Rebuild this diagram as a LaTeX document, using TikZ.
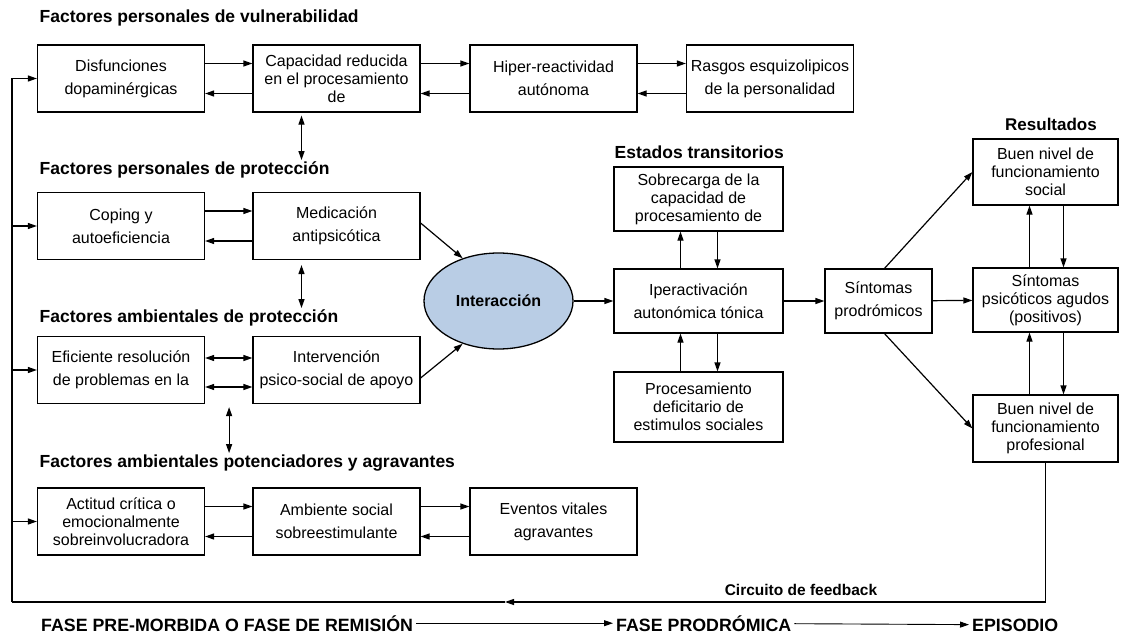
\documentclass[tikz,border=0pt]{standalone}
\usepackage{fontspec}
\setmainfont{Liberation Sans}
\usetikzlibrary{arrows.meta,shapes.geometric}
\definecolor{ellblue}{RGB}{185,205,229}

\begin{document}
\begin{tikzpicture}[x=1pt,y=-1pt,
		box/.style={draw,line width=1.2pt,minimum width=167pt,minimum height=67pt,inner sep=1pt,align=center,font=\fontsize{16}{18}\selectfont},
		box2/.style={box,font=\fontsize{16}{23}\selectfont},
		head/.style={anchor=west,inner sep=1.5pt,font=\bfseries\fontsize{17.5}{20}\selectfont},
		arr/.style={line width=1.2pt,-{Triangle[length=9pt,width=6pt]}},
		dbl/.style={line width=1.2pt,{Triangle[length=9pt,width=6pt]}-{Triangle[length=9pt,width=6pt]}},
		phase/.style={inner sep=3pt,anchor=base west,font=\bfseries\fontsize{17.8}{20}\selectfont}]
		\useasboundingbox (0,0) rectangle (1122,634);
		
		% factores de vulnerabilidad y proteccion
		\node[head] (hvu) at (38,18) {Factores personales de vulnerabilidad};
		\node[box2] (dis) at (121,78.5) {Disfunciones\\dopaminérgicas};
		\node[box] (cap) at (336.5,78.5) {Capacidad reducida\\en el procesamiento\\de};
		\node[box2] (hip) at (553.5,78.5) {Hiper-reactividad\\autónoma};
		\node[box2] (ras) at (770,78.5) {Rasgos esquizolipicos\\de la personalidad};
		
		\node[head] (hpp) at (38,170) {Factores personales de protección};
		\node[box2] (cop) at (121,226) {Coping y\\autoeficiencia};
		\node[box2] (med) at (336.5,226) {Medicación\\antipsicótica};
		
		\node[head] (hap) at (38,318) {Factores ambientales de protección};
		\node[box2] (efi) at (121,370) {Eficiente resolución\\de problemas en la};
		\node[box2] (psi) at (336.5,370) {Intervención\\psico-social de apoyo};
		
		\node[head] (hag) at (38,463) {Factores ambientales potenciadores y agravantes};
		\node[box] (act) at (121,521.5) {Actitud crítica o\\emocionalmente\\sobreinvolucradora};
		\node[box2] (amb) at (336.5,521.5) {Ambiente social\\sobreestimulante};
		\node[box2] (eve) at (553.5,521.5) {Eventos vitales\\agravantes};
		
		\foreach \a/\b in {dis/cap,cap/hip,hip/ras,cop/med,act/amb,amb/eve} {
			\draw[arr] ([yshift=15pt]\a.east) -- ([yshift=15pt]\b.west);
			\draw[arr] ([yshift=-15pt]\b.west) -- ([yshift=-15pt]\a.east);
		}
		\draw[dbl] ([yshift=12pt]efi.east) -- ([yshift=12pt]psi.west);
		\draw[dbl] ([yshift=-17pt]efi.east) -- ([yshift=-17pt]psi.west);
		
		\coordinate (v1) at ([xshift=-35pt]cap.south);
		\coordinate (v2) at ([xshift=-35pt]med.south);
		\coordinate (v3) at ([xshift=24pt]efi.south east);
		\draw[dbl,shorten <=3pt] (v1) -- (v1 |- hpp.north);
		\draw[dbl,shorten <=5pt] (v2) -- (v2 |- hap.north);
		\draw[dbl,shorten <=3pt] (v3) -- (v3 |- hag.north);
		
		% interaccion y estados transitorios
		\node[ellipse,draw,line width=1.3pt,fill=ellblue,minimum width=149pt,minimum height=96pt,inner sep=0pt,font=\bfseries\fontsize{16}{18}\selectfont] (inter) at (498.5,301) {Interacción};
		\draw[arr] ([yshift=3pt]med.east) -- (inter.130);
		\draw[arr] ([yshift=-8pt]psi.east) -- (inter.230);
		
		\node[head] (hes) at (613,152) {Estados transitorios};
		\node[box,minimum width=169pt,minimum height=64pt] (sob) at (698.5,199) {Sobrecarga de la\\capacidad de\\procesamiento de};
		\node[box2,minimum width=169pt,minimum height=64pt] (ipe) at (698.5,301) {Iperactivación\\autonómica tónica};
		\node[box,minimum width=169pt,minimum height=70pt] (def) at (698.5,407) {Procesamiento\\deficitario de\\estimulos sociales};
		\draw[arr] (inter) -- (ipe);
		\draw[arr] ([xshift=-18pt]ipe.north) -- ([xshift=-18pt]sob.south);
		\draw[arr] ([xshift=19pt]sob.south) -- ([xshift=19pt]ipe.north);
		\draw[arr] ([xshift=-18pt]def.north) -- ([xshift=-18pt]ipe.south);
		\draw[arr] ([xshift=19pt]ipe.south) -- ([xshift=19pt]def.north);
		
		% resultados
		\node[box2,minimum width=107pt,minimum height=64pt] (prod) at (878.5,301) {Síntomas\\prodrómicos};
		\draw[arr] (ipe) -- (prod);
		
		\node[font=\bfseries\fontsize{17}{20}\selectfont] (hre) at (1051,124) {Resultados};
		\node[box,minimum width=145pt,minimum height=66pt] (soc) at (1045.5,172) {Buen nivel de\\funcionamiento\\social};
		\node[box,minimum width=145pt,minimum height=64pt] (agu) at (1045.5,300) {Síntomas\\psicóticos agudos\\(positivos)};
		\node[box,minimum width=145pt,minimum height=67pt] (prof) at (1045.5,428.5) {Buen nivel de\\funcionamiento\\profesional};
		\draw[arr] ([xshift=6pt]prod.north) -- (soc.west);
		\draw[arr] (prod) -- (agu);
		\draw[arr] ([xshift=6pt]prod.south) -- (prof.west);
		\draw[arr] ([xshift=-16pt]agu.north) -- ([xshift=-16pt]soc.south);
		\draw[arr] ([xshift=18pt]soc.south) -- ([xshift=18pt]agu.north);
		\draw[arr] ([xshift=-16pt]prof.north) -- ([xshift=-16pt]agu.south);
		\draw[arr] ([xshift=18pt]agu.south) -- ([xshift=18pt]prof.north);
		
		% circuito de feedback
		\coordinate (fbm) at (505,602);
		\coordinate (fbl) at (12,602);
		\draw[arr] (prof.south) |- (fbm);
		\draw[line width=1.2pt] (fbm) -- (fbl);
		\draw[arr] (fbl) |- (dis.west);
		\draw[arr] (fbl |- cop.west) -- (cop.west);
		\draw[arr] (fbl |- efi.west) -- (efi.west);
		\draw[arr] (fbl |- act.west) -- (act.west);
		\node[font=\bfseries\fontsize{15.5}{18}\selectfont] (cfb) at (801,590) {Circuito de feedback};
		
		% fases
		\node[phase] (ph1) at (38,631) {FASE PRE-MORBIDA O FASE DE REMISIÓN};
		\node[phase] (ph2) at (613,631) {FASE PRODRÓMICA};
		\node[phase] (ph3) at (969,631) {EPISODIO};
		\draw[arr,line width=0.9pt] (ph1) -- (ph2);
		\draw[arr,line width=0.9pt] (ph2) -- (ph3);
	\end{tikzpicture}
\end{document}
